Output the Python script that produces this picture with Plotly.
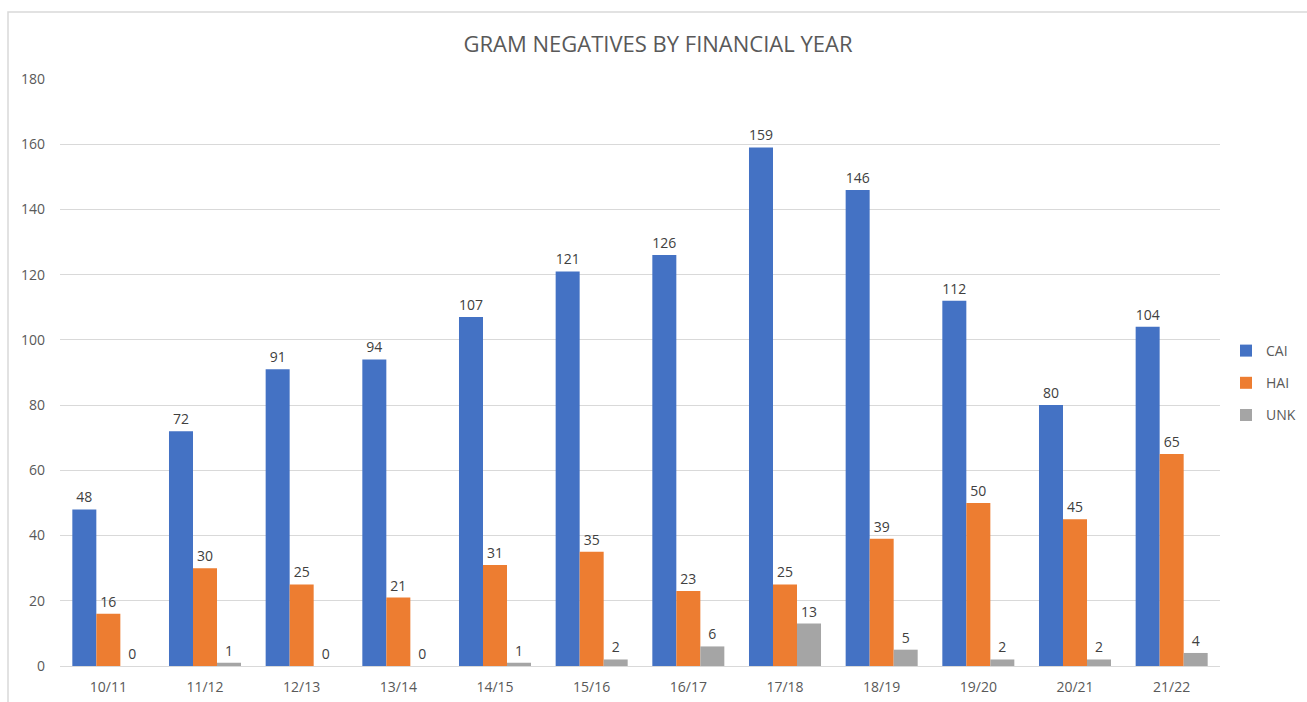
import plotly.graph_objects as go

years = ["10/11", "11/12", "12/13", "13/14", "14/15", "15/16", "16/17", "17/18", "18/19", "19/20", "20/21", "21/22"]
cai = [48, 72, 91, 94, 107, 121, 126, 159, 146, 112, 80, 104]
hai = [16, 30, 25, 21, 31, 35, 23, 25, 39, 50, 45, 65]
unk = [0, 1, 0, 0, 1, 2, 6, 13, 5, 2, 2, 4]

series = [("CAI", cai, "#4472C4"), ("HAI", hai, "#ED7D31"), ("UNK", unk, "#A5A5A5")]

font_family = "Open Sans, Liberation Sans, sans-serif"
fig = go.Figure()
for name, vals, col in series:
    fig.add_trace(go.Bar(
        x=years, y=vals, name=name, legendgroup=name,
        marker=dict(color=col, line=dict(width=0)),
        text=[str(v) for v in vals], textposition="outside", cliponaxis=False,
        textfont=dict(size=14, color="#404040", family=font_family),
    ))

fig.update_layout(
    width=1307, height=702,
    paper_bgcolor="white", plot_bgcolor="white",
    barmode="group", bargap=0.255, bargroupgap=0,
    margin=dict(l=60, r=87, t=79, b=36, autoexpand=False),
    title=dict(text="GRAM NEGATIVES BY FINANCIAL YEAR", x=658/1307, xref="container", xanchor="center",
               y=1 - 44/702, yanchor="middle",
               font=dict(size=22, color="#595959", family=font_family)),
    font=dict(family=font_family, color="#595959", size=14),
    legend=dict(xref="container", yref="container", x=1226/1307, xanchor="left",
                y=1 - 383/702, yanchor="middle", font=dict(size=14, color="#595959"),
                itemwidth=30, tracegroupgap=11, traceorder="grouped", bgcolor="rgba(0,0,0,0)"),
    xaxis=dict(showgrid=False, showline=True, linecolor="#D9D9D9", linewidth=1, ticks="",
               automargin=False, ticklabelstandoff=8, tickfont=dict(size=14, color="#595959")),
    yaxis=dict(range=[0, 180], dtick=20, showgrid=True, gridcolor="#D9D9D9", gridwidth=1,
               automargin=False, zeroline=False, showline=False, ticks="", ticklabelstandoff=14,
               tickfont=dict(size=14, color="#595959")),
)
fig.add_shape(type="rect", xref="paper", yref="paper",
              x0=-52/1160, x1=1.08, y0=-0.1, y1=(702-12-36)/587,
              line=dict(color="#D9D9D9", width=1.5), fillcolor="rgba(0,0,0,0)", layer="below")
fig.write_html("out.html", config={"displayModeBar": False},
               post_script="document.body.style.margin='0';document.body.style.overflow='hidden';")
